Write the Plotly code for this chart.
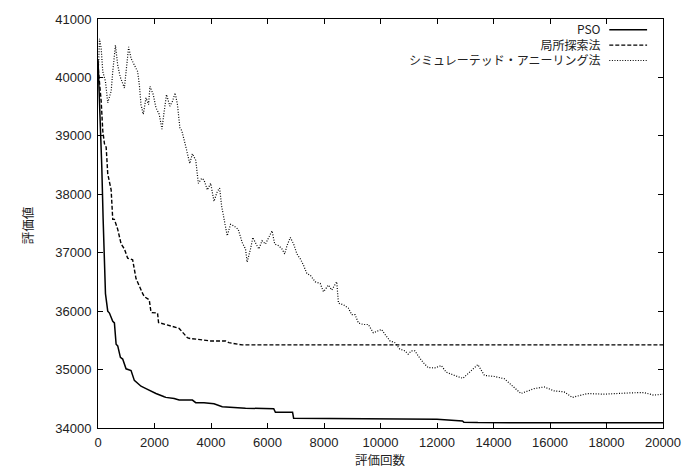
import plotly.graph_objects as go

# ---- data ----
series_names = ["PSO", "局所探索法", "シミュレーテッド・アニーリング法"]

pso_x = [0, 40, 88, 134, 180, 220, 264, 345, 405, 522, 581, 641, 698, 793, 874, 993, 1170, 1286,
         1522, 1698, 1931, 2051, 2344, 2403, 2696, 2872, 3285, 3342, 3460, 3753, 4106, 4398,
         5222, 6220, 6280, 6887, 6925, 12000, 12900, 12950, 13445, 20000]
pso_y = [40300, 39800, 39030, 38470, 37600, 37000, 36300, 36000, 35967, 35827, 35798, 35434, 35406,
         35208, 35180, 35013, 34984, 34815, 34715, 34675, 34618, 34591, 34534, 34524, 34506, 34478,
         34478, 34478, 34433, 34433, 34415, 34365, 34338, 34331, 34270, 34270, 34169, 34150,
         34120, 34100, 34092, 34090]

ls_x = [0, 18, 113, 169, 229, 289, 345, 465, 522, 581, 698, 818, 934, 1050, 1226, 1346, 1579,
        1639, 1815, 1874, 1910, 2108, 2143, 2520, 2812, 2872, 3048, 3165, 3225, 3930, 3989,
        4518, 4634, 5103, 20000]
ls_y = [40250, 40100, 39593, 39087, 38863, 38807, 38350, 38075, 37570, 37570, 37400, 37150,
        37064, 36905, 36880, 36557, 36304, 36249, 36193, 35990, 35975, 35967, 35805, 35760,
        35715, 35704, 35603, 35546, 35535, 35501, 35490, 35490, 35461, 35422, 35422]

sa_x = [0, 18, 53, 113, 169, 264, 345, 465, 522, 617, 698, 782, 934, 993, 1085, 1170, 1286, 1403,
        1463, 1522, 1604, 1698, 1790, 1840, 1956, 2051, 2167, 2263, 2344, 2425, 2544, 2636, 2731,
        2812, 2897, 2967, 3084, 3165, 3249, 3341, 3460, 3552, 3672, 3753, 3870, 3989, 4106, 4222,
        4306, 4377, 4458, 4574, 4692, 4811, 4962, 5103, 5222, 5279, 5399, 5480, 5597, 5692, 5808,
        5928, 6044, 6161, 6256, 6396, 6513, 6608, 6689, 6808, 6925, 7041, 7161, 7278, 7394, 7514,
        7690, 7866, 7982, 8159, 8275, 8451, 8511, 8687, 8863, 8980, 9099, 9216, 9392, 9568, 9745,
        9921, 10037, 10178, 10335, 10509, 10685, 10862, 10978, 11094, 11214, 11330, 11507, 11683,
        11919, 12152, 12328, 12624, 12916, 13152, 13445, 13681, 14033, 14386, 14678, 14971,
        15443, 15795, 16148, 16500, 16793, 17322, 17910, 18262, 18848, 19321, 19674, 20000]
sa_y = [40200, 40184, 40662, 40494, 40100, 39931, 39566, 39762, 40100, 40550, 40212, 40015, 39819,
        40072, 40522, 40325, 40212, 40100, 39875, 39538, 39369, 39651, 39538, 39846, 39706, 39482,
        39369, 39116, 39425, 39706, 39509, 39593, 39735, 39538, 39144, 39087, 38863, 38694, 38526,
        38694, 38581, 38188, 38273, 38244, 38075, 38188, 37879, 38048, 38104, 37795, 37570, 37289,
        37485, 37458, 37401, 37176, 37064, 36839, 37064, 37261, 37148, 37064, 37205, 37148, 37261,
        37374, 37148, 37120, 37064, 36979, 37120, 37261, 37148, 36979, 36895, 36783, 36642, 36615,
        36502, 36473, 36333, 36446, 36362, 36502, 36137, 36109, 36052, 35940, 35940, 35799, 35771,
        35771, 35630, 35658, 35687, 35591, 35490, 35461, 35350, 35321, 35265, 35321, 35321, 35237,
        35124, 35035, 35029, 35068, 34955, 34899, 34850, 34955, 35085, 34899, 34882, 34843, 34714,
        34590, 34675, 34702, 34635, 34618, 34523, 34590, 34579, 34590, 34601, 34607, 34562, 34579]

x_ticks = [0, 2000, 4000, 6000, 8000, 10000, 12000, 14000, 16000, 18000, 20000]
y_ticks = [34000, 35000, 36000, 37000, 38000, 39000, 40000, 41000]

x_title = "評価回数"
y_title = "評価値"

# ---- figure ----
W, H = 693, 469
ML, MR, MT, MB = 98, 27, 13, 41
PW, PH = W - ML - MR, H - MT - MB

JP = "Noto Sans CJK JP"
tickfont = dict(family="Liberation Sans, Arial, sans-serif", size=13, color="#222222")

styles = [
    dict(color="black", width=1.5, dash="solid"),
    dict(color="black", width=1.4, dash="4px,2px"),
    dict(color="black", width=1.2, dash="1px,1.6px"),
]

fig = go.Figure()
for name, xs, ys, st in zip(series_names, [pso_x, ls_x, sa_x], [pso_y, ls_y, sa_y], styles):
    fig.add_trace(go.Scatter(x=xs, y=ys, mode="lines", name=name, line=st, showlegend=False))

axis_common = dict(
    showline=True, linecolor="black", linewidth=1, mirror="ticks",
    ticks="inside", ticklen=5, tickwidth=1, tickcolor="black",
    showgrid=False, zeroline=False, tickfont=tickfont,
)
fig.update_xaxes(range=[0, 20000], tickvals=x_ticks, ticktext=[str(v) for v in x_ticks],
                 ticklabelstandoff=2, **axis_common)
fig.update_yaxes(range=[34000, 41000], tickvals=y_ticks, ticktext=[str(v) for v in y_ticks],
                 ticklabelstandoff=3, **axis_common)

def px_x(p):
    return (p - ML) / PW

def px_y(p):
    return (H - MB - p) / PH

LEG_SIZE = 12
LEG_STEP = LEG_SIZE * 1.3   # plotly line spacing for multi-line text
LEG_MID = 38.5

annotations = [
    dict(text=x_title, x=px_x(382), y=px_y(460), xref="paper", yref="paper",
         xanchor="center", yanchor="middle", showarrow=False,
         font=dict(family=JP, size=12.5, color="#222222")),
    dict(text=y_title, x=px_x(28), y=px_y(222), xref="paper", yref="paper",
         xanchor="center", yanchor="middle", showarrow=False, textangle=-90,
         font=dict(family=JP, size=12.5, color="#222222")),
    dict(text="<br>".join(series_names), x=px_x(606), y=px_y(LEG_MID), xref="paper", yref="paper",
         xanchor="right", yanchor="middle", align="right", showarrow=False,
         font=dict(family=JP, size=LEG_SIZE, color="#222222")),
]
shapes = []
for i, st in enumerate(styles):
    ry = LEG_MID + (i - 1) * LEG_STEP + 1
    shapes.append(dict(type="line", xref="paper", yref="paper",
                       x0=px_x(612), x1=px_x(650), y0=px_y(ry), y1=px_y(ry),
                       line=st))

fig.update_layout(
    width=W, height=H,
    margin=dict(l=ML, r=MR, t=MT, b=MB, pad=0),
    paper_bgcolor="white", plot_bgcolor="white",
    showlegend=False,
    annotations=annotations, shapes=shapes,
)

fig.write_html("out.html")
